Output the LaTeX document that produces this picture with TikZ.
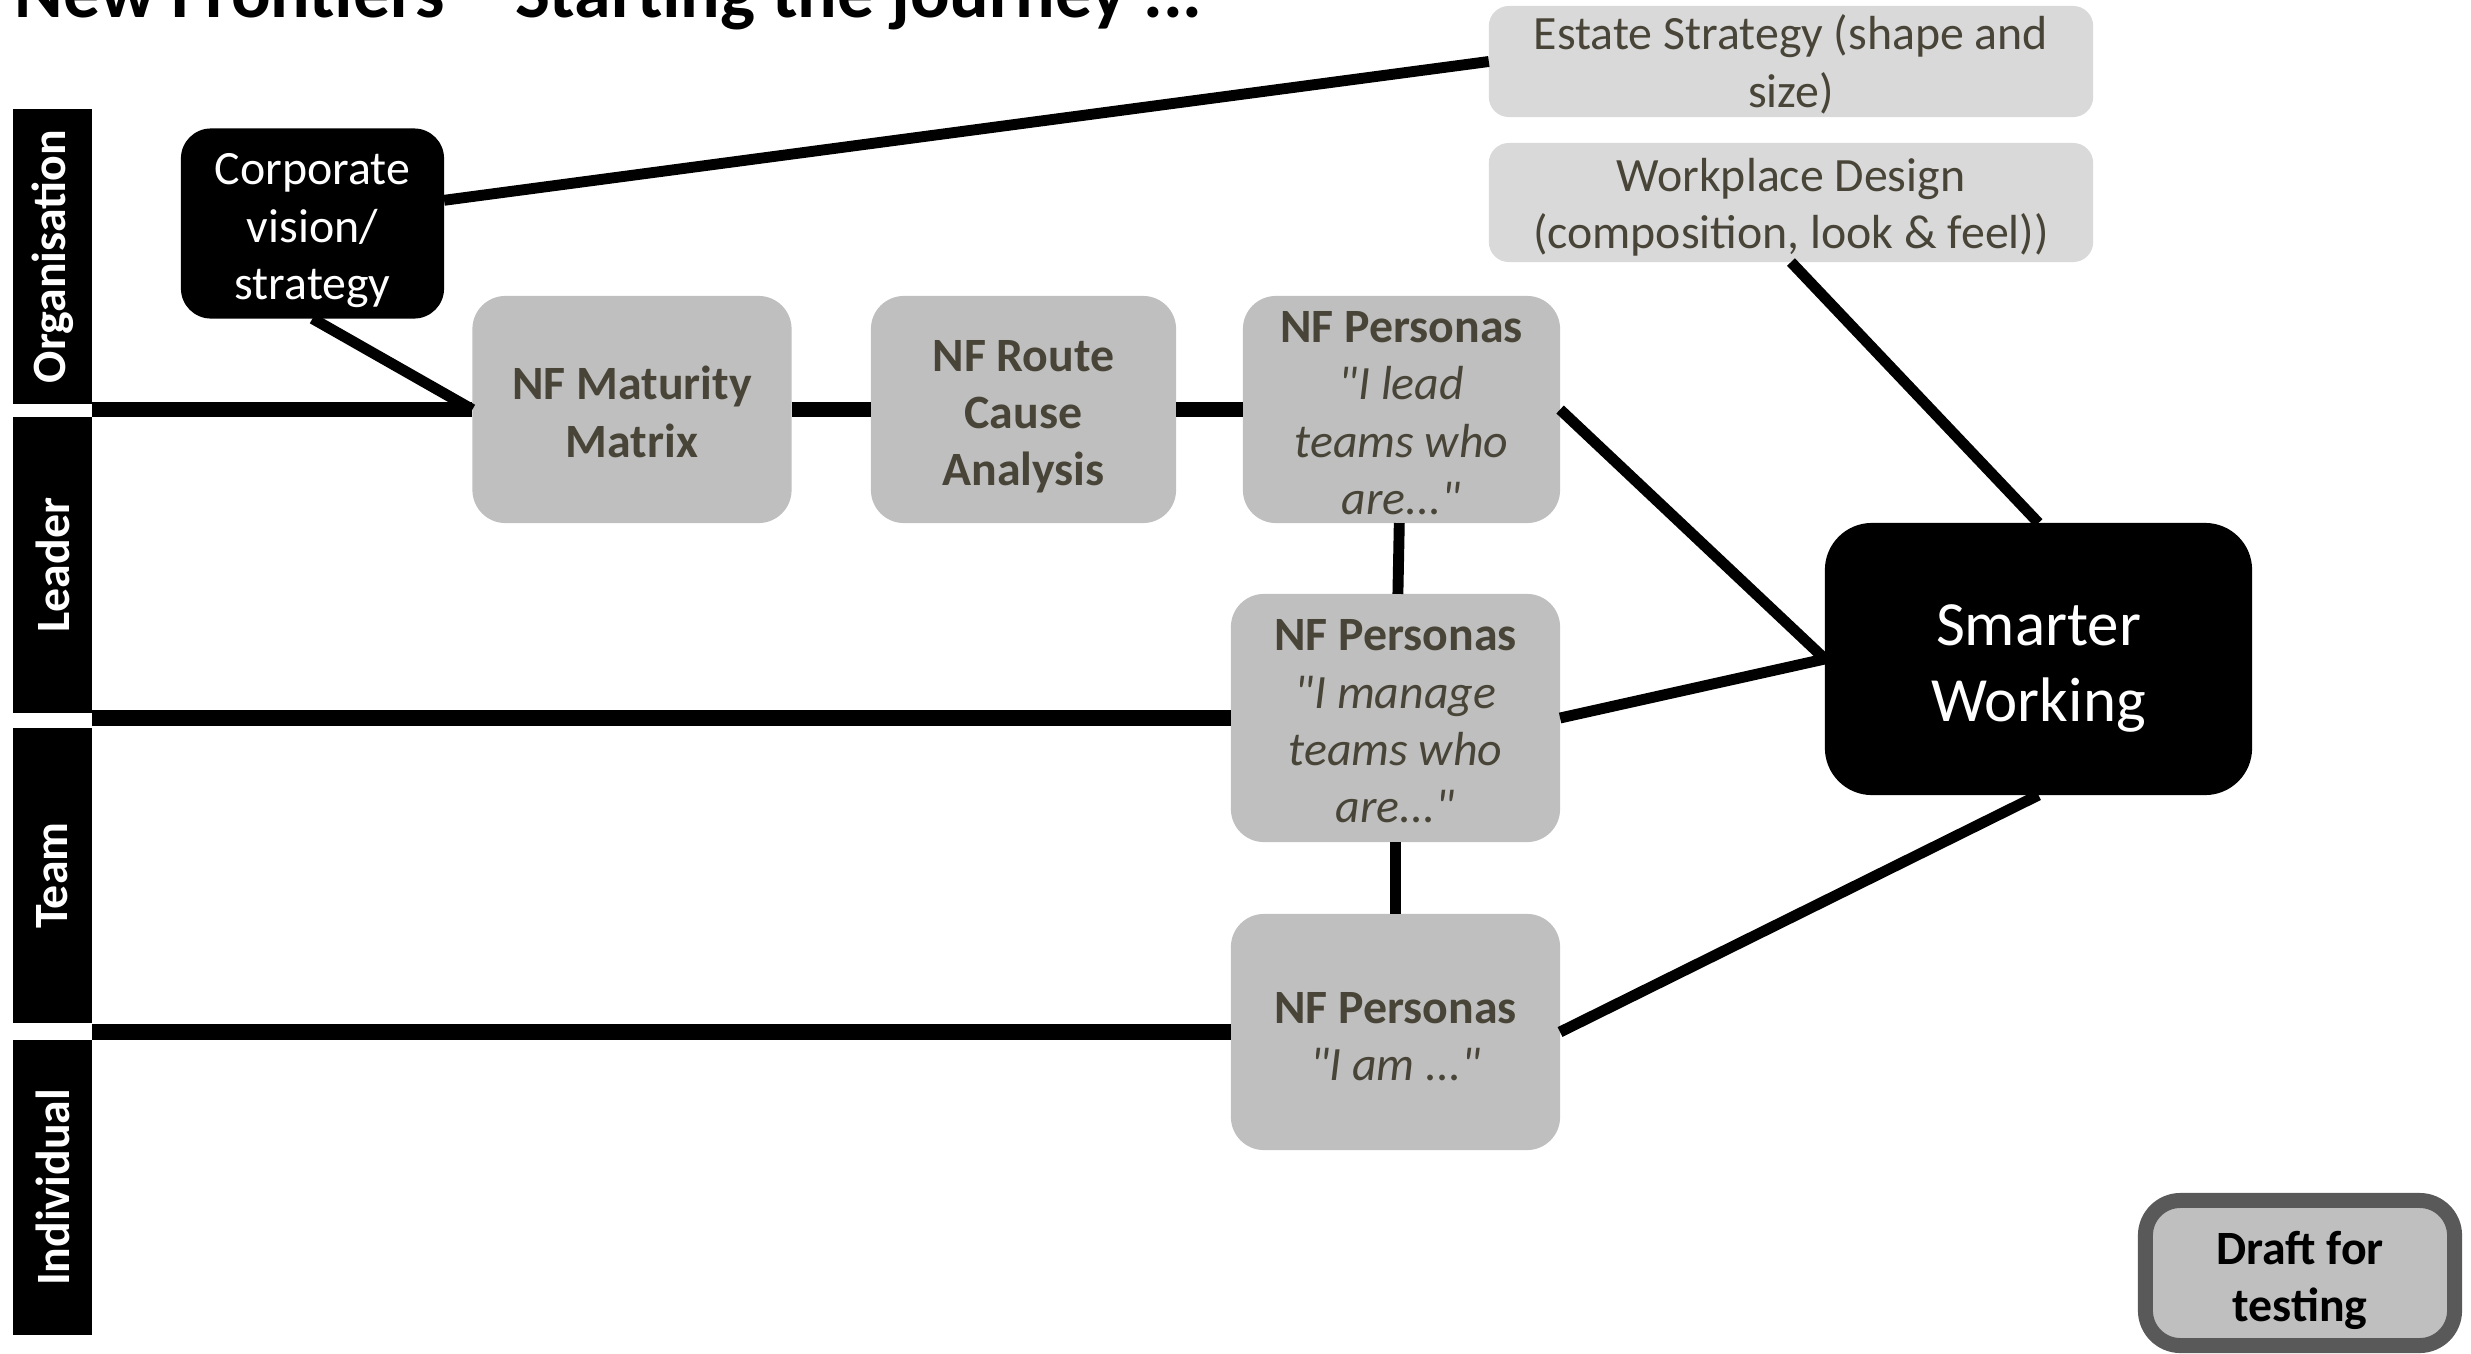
\documentclass[tikz,border=0pt]{standalone}
\usepackage{fontspec}
\setmainfont{Carlito}[Ligatures=TeXOff]
\usepackage{tikz}

\definecolor{boxgrey}{RGB}{191,191,191}
\definecolor{lightgrey}{RGB}{217,217,217}
\definecolor{nftext}{RGB}{72,69,56}
\definecolor{draftline}{RGB}{89,89,89}
\newcommand{\lift}[1][0.95em]{\rule{0pt}{#1}}

\begin{document}
\begin{tikzpicture}[x=0.01cm, y=-0.01cm,
  lane/.style = {fill=black, text=white, font=\bfseries\fontsize{13.6}{16.3}\selectfont, inner sep=0pt, outer sep=0pt, minimum width=2.95cm, minimum height=0.79cm, rotate=90},
  nf/.style = {fill=boxgrey, text=nftext, rounded corners=0.33cm, align=center, inner sep=0pt, outer sep=0pt, font=\fontsize{13.6}{16.3}\selectfont},
  top/.style = {fill=lightgrey, text=nftext, rounded corners=0.2cm, align=center, inner sep=0pt, outer sep=0pt, minimum width=6.04cm, font=\fontsize{13.6}{16.3}\selectfont},
  dark/.style = {fill=black, text=white, align=center, inner sep=0pt, outer sep=0pt},
  con/.style = {line width=3.1pt},
  lanecon/.style = {line width=4.5pt}]
        \useasboundingbox (0,0) rectangle (2471,1354);
        \node[anchor=base west, inner sep=0pt, font=\bfseries\fontsize{21}{25}\selectfont] (title) at (14,17) {New Frontiers – Starting the journey ...};
        % lanes
        \node[lane] (org) at (52.5,256.5) {Organisation};
        \node[lane] (leader) at (52.5,565) {Leader};
        \node[lane] (team) at (52.5,875.5) {Team};
        \node[lane] (indiv) at (52.5,1187.5) {Individual};
        \coordinate (orgline) at (92,409.5);
        \coordinate (leaderline) at (92,718);
        \coordinate (teamline) at (92,1032);
        % boxes
        \node[dark, rounded corners=0.3cm, minimum width=2.63cm, minimum height=1.90cm, font=\fontsize{13.6}{16.3}\selectfont] (corp) at (312.5,223.5) {\lift Corporate\\vision/\\strategy};
        \node[nf, minimum width=3.19cm, minimum height=2.27cm, font=\bfseries\fontsize{13.6}{16.3}\selectfont] (matrix) at (632,409.5) {\lift[0.8em]NF Maturity\\Matrix};
        \node[nf, minimum width=3.05cm, minimum height=2.27cm, font=\bfseries\fontsize{13.6}{16.3}\selectfont] (route) at (1023.5,409.5) {\lift NF Route\\Cause\\Analysis};
        \node[nf, minimum width=3.17cm, minimum height=2.27cm] (lead) at (1401.5,409.5) {\lift[0.8em]\textbf{NF Personas}\\\textit{"I lead}\\\textit{teams who}\\\textit{are..."}};
        \node[nf, minimum width=3.29cm, minimum height=2.48cm] (manage) at (1395.5,718) {\lift[0.8em]\textbf{NF Personas}\\\textit{"I manage}\\\textit{teams who}\\\textit{are..."}};
        \node[nf, minimum width=3.29cm, minimum height=2.36cm] (iam) at (1395.5,1032) {\lift[0.85em]\textbf{NF Personas}\\\textit{"I am ..."}};
        \node[top, minimum height=1.11cm] (estate) at (1791,61.5) {\lift[0.85em]Estate Strategy (shape and\\size)};
        \node[top, minimum height=1.19cm] (workplace) at (1791,202.5) {\lift[0.88em]Workplace Design\\(composition, look \& feel))};
        \node[dark, rounded corners=0.47cm, minimum width=4.27cm, minimum height=2.72cm, font=\fontsize{17.9}{21.6}\selectfont] (smarter) at (2038.5,659) {\lift Smarter\\Working};
        \node[draw=draftline, line width=0.15cm, fill=boxgrey, rounded corners=0.35cm, align=center, inner sep=0pt, minimum width=3.09cm, minimum height=1.45cm, font=\bfseries\fontsize{13.6}{16.3}\selectfont] (draft) at (2300,1273) {\lift[1.0em]Draft for\\testing};
        % connectors
        \draw[con] (corp.10) -- (estate.west);
        \draw[con] (corp.south) -- (matrix.west);
        \draw[lanecon] (orgline) -- (matrix.west);
        \draw[lanecon] (matrix) -- (route);
        \draw[lanecon] (route) -- (lead);
        \draw[con] (lead) -- (manage);
        \draw[con] (manage) -- (iam);
        \draw[con] (lead.east) -- (smarter.west);
        \draw[con] (manage.east) -- (smarter.west);
        \draw[con] (iam.east) -- (smarter.south);
        \draw[con] (workplace.south) -- (smarter.north);
        \draw[lanecon] (leaderline) -- (manage.west);
        \draw[lanecon] (teamline) -- (iam.west);
\end{tikzpicture}
\end{document}
